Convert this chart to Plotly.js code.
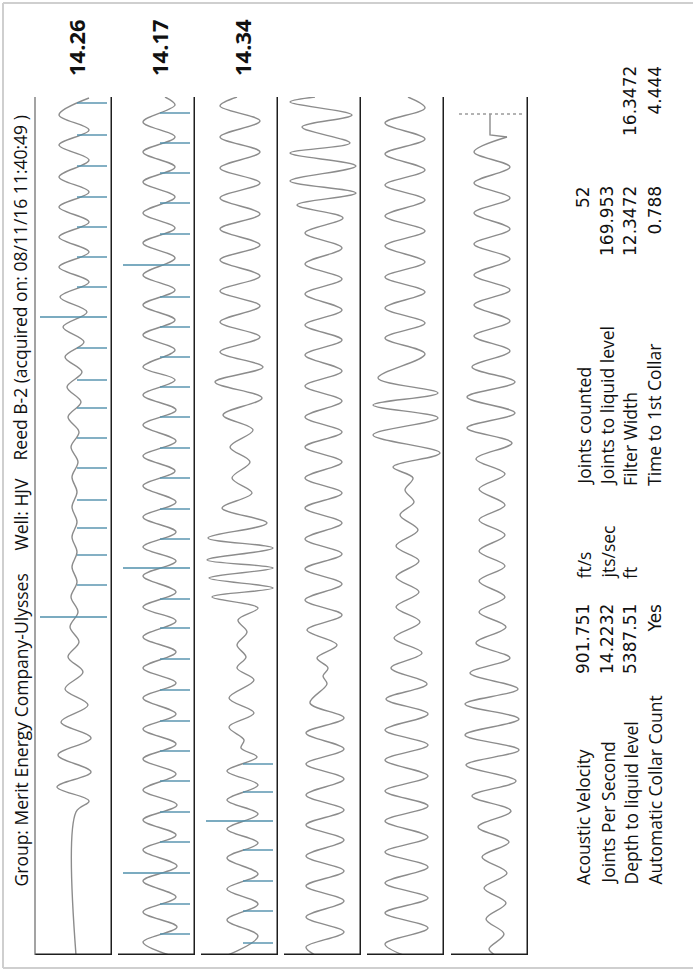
<!DOCTYPE html>
<html>
<head>
<meta charset="utf-8">
<script src="https://cdn.plot.ly/plotly-3.0.1.min.js"></script>
<style>html,body{margin:0;padding:0;background:#fff;}#chart{width:695px;height:973px;}</style>
</head>
<body>
<div id="chart"></div>
<script>
// ---------------- DATA ----------------
// time axis: arbitrary time units along each strip (0 = start of strip), amplitude: arbitrary units
const titleParts = ["Group: Merit Energy Company-Ulysses", "Well: HJV", "Reed B-2 (acquired on: 08/11/16 11:40:49 )"];
const stripLabels = ["14.26", "14.17", "14.34"];

const s1_t = [0,143,154,168,183,200,217,233,250,266,283,298,313,328,343,358,373,388,403,418,433,448,463,478,493,508,523,538,553,568,583,598,613,628,643,658,673,688,703,718,733,748,763,778,795,810,825,840,857];
const s1_a = [0,0,13,-19,15,-18,15,-15,12,-11,7,-8,3,-6,2,-5,1,-4,1,-4,1,-4,1,-4,2,-5,3,-8,5,-9,6,-11,8,-13,11,-16,13,-17,13,-17,13,-17,13,-17,13,-17,13,-17,13];
const s1_marks = [852,820,789,758,728,698,668,638,607,575,547,517,487,455,427,400,370,338];
const s1_long = [638,338];

const s2_t = [0,13,28,43,58,74,89,105,120,135,150,165,181,196,211,226,241,257,272,287,303,318,334,348,363,379,394,408,423,438,453,469,484,499,514,530,545,560,575,588,605,620,635,650,665,680,697,712,727,742,758,773,788,803,818,833,850,858];
const s2_a = [10,-16,18,-16,17,-16,18,-16,17,-16,18,-16,17,-16,17,-16,17,-16,17,-16,17,-16,17,-16,17,-16,17,-16,17,-16,17,-16,16,-16,17,-16,17,-16,16,-16,16,-16,16,-16,16,-16,16,-16,16,-16,16,-16,16,-16,16,-16,16,6];
const s2_marks = [842,812,782,752,721,690,658,628,598,568,538,507,477,446,416,387,356,327,296,265,234,204,174,143,113,82,51,21];
const s2_long = [690,387,82];

const s3_t = [0,19,35,51,66,81,97,112,126,141,155,170,184,198,207,215,228,242,257,275,287,298,310,323,335,347,358,367,377,387,395,407,417,432,447,462,477,493,508,525,540,557,573,588,603,618,633,649,664,679,695,710,726,741,757,772,787,803,818,834,849,858];
const s3_a = [-14,16,-15,16,-15,16,-15,16,-15,16,-15,16,-15,15,-1,2,-13,12,-13,12,-5,4,-5,5,-4,16,-30,31,-33,31,-35,31,-34,25,-20,10,-10,8,-12,11,-19,20,-27,21,-22,18,-22,18,-22,18,-22,18,-22,18,-22,18,-22,18,-22,18,-22,-5];
const s3_marks = [191,163,134,105,74,44,12];
const s3_long = [134];

const s4_t = [0,8,23,38,54,69,84,99,115,130,145,160,176,191,206,222,237,252,271,279,287,297,310,325,340,355,371,386,401,416,432,447,462,477,493,508,523,538,554,569,584,600,615,630,645,661,676,691,707,722,737,750,762,774,789,802,812,828,840,853,858];
const s4_a = [-10,-19,19,-19,19,-19,19,-19,19,-19,19,-19,19,-19,19,-19,19,-15,2,-2,3,-8,12,-18,17,-20,17,-20,17,-20,17,-20,17,-20,17,-20,17,-20,17,-20,17,-20,17,-20,17,-20,17,-20,17,-20,18,-28,31,-35,31,-35,25,-23,27,-35,-10];

const s5_t = [0,11,27,42,57,72,88,103,118,134,149,164,179,195,210,225,241,256,271,287,302,317,333,348,363,378,394,409,425,440,453,465,477,488,502,520,537,550,562,577,601,617,632,647,663,678,693,709,724,739,755,770,785,801,816,832,847,858];
const s5_a = [-5,-23,20,-23,20,-23,20,-23,20,-23,20,-23,20,-23,20,-23,20,-22,19,-17,14,-14,12,-12,11,-12,11,-12,10,-8,6,-3,5,-15,32,-35,30,-35,30,-30,17,-23,17,-23,17,-23,17,-23,17,-23,17,-23,17,-23,17,-23,17,0];

const s6_t = [0,6,21,36,52,67,82,98,113,128,144,159,174,190,205,220,236,251,266,282,297,312,328,343,358,374,389,404,420,435,450,466,481,496,512,527,542,558,573,588,604,619,634,650,665,680,696,711,726,742,757,772,788,803,818];
const s6_a = [3,-3,12,-6,14,-8,15,-10,17,-14,19,-20,24,-26,27,-27,27,-27,26,-22,18,-16,14,-13,13,-13,13,-13,13,-13,13,-13,13,-16,20,-25,23,-25,23,-20,18,-18,18,-18,18,-18,18,-18,18,-18,18,-18,18,-18,15];
const s6_end_t = [818,820,841];
const s6_end_a = [15,-2,-2];
const s6_cursor = 841;

const leftLabels = ["Acoustic Velocity","Joints Per Second","Depth to liquid level","Automatic Collar Count"];
const leftValues = ["901.751","14.2232","5387.51","Yes"];
const leftUnits = ["ft/s","jts/sec","ft"];
const rightLabels = ["Joints counted","Joints to liquid level","Filter Width","Time to 1st Collar"];
const rightValues = ["52","169.953","12.3472","0.788"];
const extraValues = ["", "", "16.3472", "4.444"];

// ---------------- LAYOUT / STYLE ----------------
const W = 695, H = 973;
const stripRight = [112, 195, 278, 361, 444, 528];
const stripWidth = 78;
const xr = [-42, 36];
const yTop = 97, yBot = 955;
const waveColor = '#8c8c8c';
const markColor = '#4f8fab';
const fontFam = '"Open Sans", "Noto Sans", sans-serif';
const numFam = '"DejaVu Sans", "Open Sans", sans-serif';
const txtColor = '#111111';
const px = x => x / W;
const py = y => 1 - y / H;

const waves = [[s1_t,s1_a],[s2_t,s2_a],[s3_t,s3_a],[s4_t,s4_a],[s5_t,s5_a],[s6_t,s6_a]];
const marks = [[s1_marks,s1_long],[s2_marks,s2_long],[s3_marks,s3_long]];

const traces = [];
const layout = {
  width: W, height: H,
  margin: {l:0, r:0, t:0, b:0},
  paper_bgcolor: '#ffffff', plot_bgcolor: 'rgba(0,0,0,0)',
  showlegend: false,
  font: {family: fontFam, color: txtColor},
  yaxis: {domain: [py(yBot), py(yTop)], range: [0, yBot - yTop], visible: false, fixedrange: true},
  shapes: [], annotations: []
};

waves.forEach((w, i) => {
  const ax = i === 0 ? 'x' : 'x' + (i + 1);
  const axName = i === 0 ? 'xaxis' : 'xaxis' + (i + 1);
  const R = stripRight[i], L = R - stripWidth;
  layout[axName] = {domain: [px(L), px(R)], range: xr, visible: false, fixedrange: true, anchor: 'y'};
  traces.push({x: w[1], y: w[0], xaxis: ax, yaxis: 'y', mode: 'lines', type: 'scatter',
    line: {color: waveColor, width: 1.4, shape: 'spline', smoothing: 1}, hoverinfo: 'skip'});
  layout.shapes.push({type: 'line', xref: ax, yref: 'y', x0: 36, x1: 36, y0: -2, y1: 860,
    line: {color: '#1e1e1e', width: 3}});
  layout.shapes.push({type: 'line', xref: ax, yref: 'y', x0: -41, x1: 37.5, y0: 0, y1: 0,
    line: {color: '#1e1e1e', width: 3}});
});
layout.shapes.push({type: 'line', xref: 'x', yref: 'y', x0: -41, x1: -41, y0: 0, y1: 858,
  line: {color: '#666', width: 1.2}});

marks.forEach((m, i) => {
  const ax = i === 0 ? 'x' : 'x' + (i + 1);
  const xs = [], ys = [], xl = [], yl = [];
  m[0].forEach(t => {
    if (m[1].includes(t)) { xl.push(-36, 31, null); yl.push(t, t, null); }
    else { xs.push(1, 31, null); ys.push(t, t, null); }
  });
  traces.push({x: xs, y: ys, xaxis: ax, yaxis: 'y', mode: 'lines', type: 'scatter',
    line: {color: markColor, width: 1.4}, hoverinfo: 'skip'});
  traces.push({x: xl, y: yl, xaxis: ax, yaxis: 'y', mode: 'lines', type: 'scatter',
    line: {color: markColor, width: 1.4}, hoverinfo: 'skip'});
});

traces.push({x: s6_end_a, y: s6_end_t, xaxis: 'x6', yaxis: 'y', mode: 'lines', type: 'scatter',
  line: {color: waveColor, width: 1.4}, hoverinfo: 'skip'});
traces.push({x: [-33, 33], y: [s6_cursor, s6_cursor], xaxis: 'x6', yaxis: 'y', mode: 'lines', type: 'scatter',
  line: {color: '#9a9a9a', width: 1.5, dash: 'dot'}, hoverinfo: 'skip'});

const frameC = '#cfcfcf';
layout.shapes.push({type:'line', xref:'paper', yref:'paper', x0:px(3), x1:px(693), y0:py(3), y1:py(3), line:{color:frameC, width:2}});
layout.shapes.push({type:'line', xref:'paper', yref:'paper', x0:px(3), x1:px(3), y0:py(3), y1:py(968), line:{color:frameC, width:2}});
layout.shapes.push({type:'line', xref:'paper', yref:'paper', x0:px(3), x1:px(693), y0:py(968), y1:py(968), line:{color:frameC, width:2}});

function ann(text, x, y, yanchor, size, bold, fam) {
  layout.annotations.push({text: bold ? '<b>' + text + '</b>' : text, xref: 'paper', yref: 'paper',
    x: px(x), y: py(y), xanchor: 'center', yanchor: yanchor, textangle: -90, showarrow: false,
    font: {size: size, color: txtColor, family: fam || fontFam, weight: bold ? 700 : 500}, borderpad: 0});
}
ann(titleParts[0], 20, 888, 'bottom', 17.5);
ann(titleParts[1], 20, 552, 'bottom', 17.5);
ann(titleParts[2], 20, 462, 'bottom', 17.5);
stripLabels.forEach((s, i) => ann(s, stripRight[i] - 36, 48, 'middle', 22, true));

const lineX = [583, 607, 630, 654];
leftLabels.forEach((s, i) => ann(s, lineX[i], 886, 'bottom', 17.5));
leftValues.forEach((s, i) => ann(s, lineX[i], 603, 'top', 17, false, numFam));
leftUnits.forEach((s, i) => ann(s, lineX[i], 580, 'bottom', 17.5));
rightLabels.forEach((s, i) => ann(s, lineX[i], 487, 'bottom', 17.5));
rightValues.forEach((s, i) => ann(s, lineX[i], 185, 'top', 17, false, numFam));
extraValues.forEach((s, i) => { if (s) ann(s, lineX[i], 65, 'top', 17, false, numFam); });

Plotly.newPlot('chart', traces, layout, {staticPlot: true, displayModeBar: false});
</script>
</body>
</html>
